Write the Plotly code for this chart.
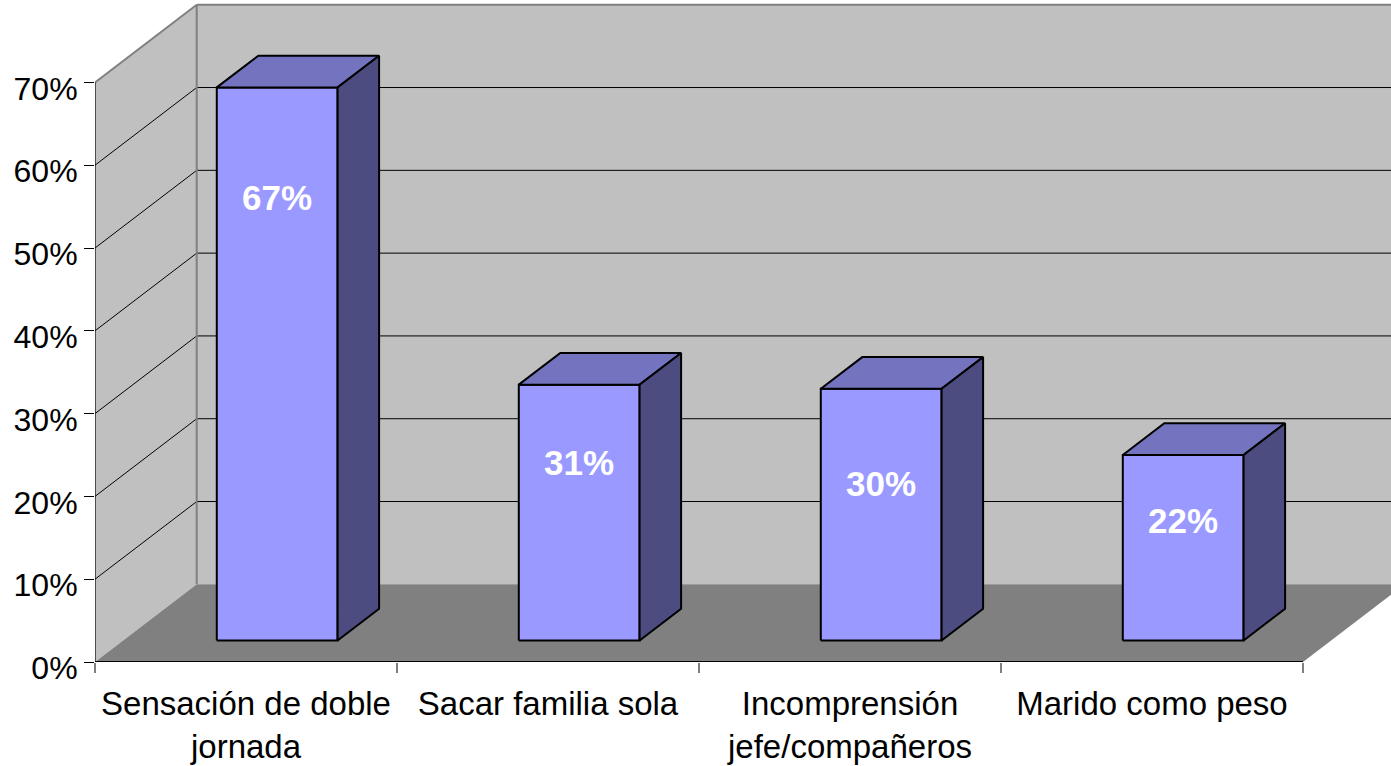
import plotly.graph_objects as go

# ---- data ----
categories = ["Sensación de doble<br>jornada", "Sacar familia sola",
              "Incomprensión<br>jefe/compañeros", "Marido como peso"]
values = [0.668, 0.309, 0.304, 0.224]
y_ticks = [0, 0.1, 0.2, 0.3, 0.4, 0.5, 0.6, 0.7]
y_tick_text = ["0%", "10%", "20%", "30%", "40%", "50%", "60%", "70%"]

# ---- styling / geometry ----
FRONT = "#9999FF"
TOP = "#7373BF"
SIDE = "#4C4C80"
WALL = "#C0C0C0"
FLOOR = "#808080"
EDGE = "#808080"
FONT = "Liberation Sans, Arial, sans-serif"

DX, DY = 0.3368, 0.0938      # oblique depth offset (x units, y units) for full depth
Z1, Z2 = 0.277, 0.685        # bar front / back depth
BAR_W = 0.4
BAR_C = 0.51                 # bar centre within its category slot
YMAX = 0.7
label_heights = [0.535, 0.215, 0.189, 0.145]  # label centre on the front face
n = len(categories)


def proj(x, y, z):
    return x + z * DX, y + z * DY


def poly(pts, fill, line_color="black", width=0):
    xs = [p[0] for p in pts] + [pts[0][0]]
    ys = [p[1] for p in pts] + [pts[0][1]]
    return go.Scatter(x=xs, y=ys, mode="lines", fill="toself", fillcolor=fill,
                      line=dict(color=line_color, width=width),
                      hoverinfo="skip", showlegend=False)


def lines(segs, color, width):
    xs, ys = [], []
    for a, b in segs:
        xs += [a[0], b[0], None]
        ys += [a[1], b[1], None]
    return go.Scatter(x=xs, y=ys, mode="lines", line=dict(color=color, width=width),
                      hoverinfo="skip", showlegend=False)


fig = go.Figure()
far = n + 1.0

# walls and floor
fig.add_trace(poly([proj(0, 0, 0), proj(0, YMAX, 0), proj(0, YMAX, 1), proj(0, 0, 1)], WALL))
fig.add_trace(poly([proj(0, 0, 1), proj(0, YMAX, 1), proj(far, YMAX, 1), proj(far, 0, 1)], WALL))
fig.add_trace(poly([proj(0, 0, 0), proj(n, 0, 0), proj(n, 0, 1), proj(0, 0, 1)], FLOOR))

# gridlines
grid = []
for v in y_ticks[1:-1]:
    grid.append((proj(0, v, 0), proj(0, v, 1)))
    grid.append((proj(0, v, 1), proj(far, v, 1)))
fig.add_trace(lines(grid, "black", 1))

# wall edges
fig.add_trace(lines([(proj(0, YMAX, 0), proj(0, YMAX, 1)),
                     (proj(0, YMAX, 1), proj(far, YMAX, 1)),
                     (proj(0, 0, 1), proj(0, YMAX, 1))], EDGE, 2))

# front axis lines
fig.add_trace(lines([(proj(0, 0, 0), proj(0, YMAX, 0))], "black", 1.2))
fig.add_trace(lines([(proj(0, 0, 0), proj(n, 0, 0))], "black", 2))

# bars
for i, v in enumerate(values):
    x0 = i + BAR_C - BAR_W / 2
    x1 = i + BAR_C + BAR_W / 2
    fig.add_trace(poly([proj(x0, 0, Z1), proj(x1, 0, Z1), proj(x1, v, Z1), proj(x0, v, Z1)],
                       FRONT, "black", 2))
    fig.add_trace(poly([proj(x0, v, Z1), proj(x1, v, Z1), proj(x1, v, Z2), proj(x0, v, Z2)],
                       TOP, "black", 2))
    fig.add_trace(poly([proj(x1, 0, Z1), proj(x1, 0, Z2), proj(x1, v, Z2), proj(x1, v, Z1)],
                       SIDE, "black", 2))
    lx, ly = proj(i + BAR_C, label_heights[i], Z1)
    fig.add_annotation(x=lx, y=ly, text=f"<b>{round(v * 100):.0f}%</b>", showarrow=False,
                       font=dict(family=FONT, size=35, color="white"))

W, H = 1391, 766
ML, MB = 95, 104
px_per_x = 302.0
px_per_y = 828.0

fig.update_layout(
    width=W, height=H, autosize=False,
    margin=dict(l=ML, r=0, t=0, b=MB),
    paper_bgcolor="white", plot_bgcolor="white",
    showlegend=False,
    font=dict(family=FONT, size=32, color="black"),
    xaxis=dict(range=[0, (W - ML) / px_per_x], showgrid=False, zeroline=False, showline=False,
               tickvals=[i + 0.5 for i in range(n)], ticktext=categories, ticks="",
               ticklabelstandoff=19, tickfont=dict(size=33),
               minor=dict(tickvals=list(range(n + 1)), ticks="outside", ticklen=10,
                          tickcolor="#808080", tickwidth=1.5, showgrid=False),
               fixedrange=True),
    yaxis=dict(range=[0, (H - MB) / px_per_y], showgrid=False, zeroline=False, showline=False,
               tickvals=y_ticks, ticktext=y_tick_text, ticks="outside", ticklen=10,
               tickcolor="black", tickwidth=1, tickfont=dict(size=32), ticklabelshift=6,
               fixedrange=True),
)

fig.write_html("out.html", config={"displayModeBar": False},
               post_script="document.body.style.margin='0px';")
